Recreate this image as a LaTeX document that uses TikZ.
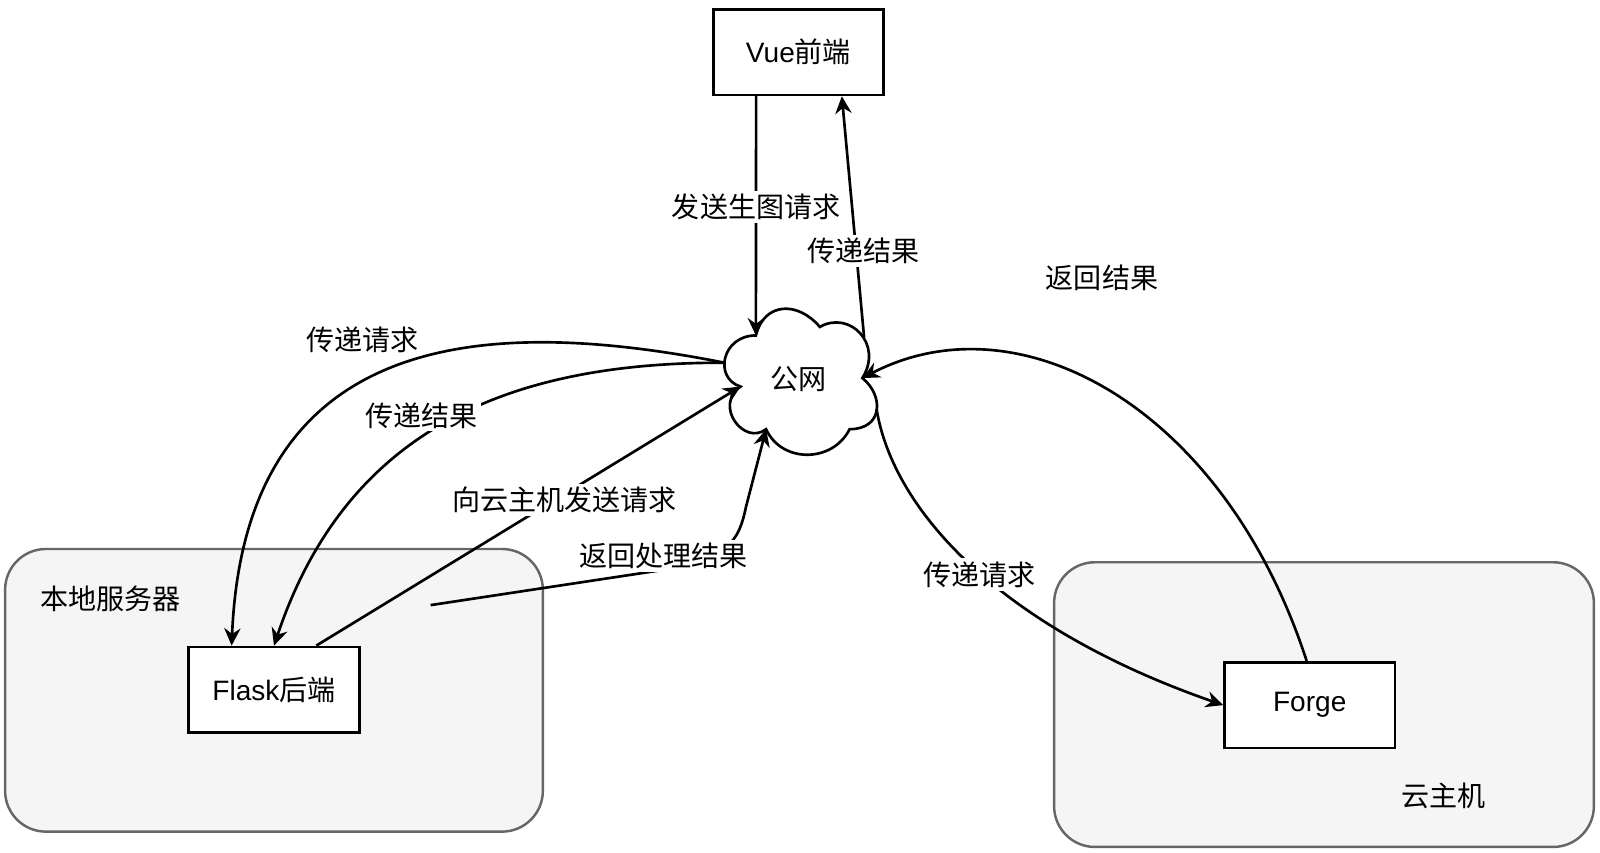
\documentclass[tikz,border=0pt]{standalone}
\usepackage{fontspec}
\setmainfont{Liberation Sans}
\newfontfamily\cjk{Noto Sans CJK SC}
\usetikzlibrary{arrows.meta,calc}
\begin{document}
\begin{tikzpicture}[x=0.5pt,y=-0.5pt,
  every node/.style={font=\fontsize{13.75}{16}\selectfont},
  group/.style={draw=black!60, fill=black!4, line width=1.2pt, rounded corners=20pt, inner sep=0pt},
  box/.style={draw=black, fill=white, line width=1.3pt, minimum width=83.5pt, minimum height=42pt, inner sep=0pt},
  conn/.style={line width=1.3pt, -{Stealth[length=8.5pt,width=8pt,inset=2.8pt]}},
  lbl/.style={fill=white, inner sep=1.5pt},
  txt/.style={inner sep=1pt}]
\useasboundingbox (0,0) rectangle (1568,835);

% groups
\node[group, minimum width=263.5pt, minimum height=138.5pt] (local) at (268.5,676.5) {};
\node[group, minimum width=264.5pt, minimum height=139.5pt] (cloudhost) at (1297.5,690.5) {};
\node[txt] (localtxt) at (108,587) {\cjk 本地服务器};
\node[txt] (hosttxt) at (1415,780) {\cjk 云主机};

% boxes
\node[box] (vue) at (782.5,51) {Vue{\cjk 前端}};
\node[box] (flask) at (268.5,676) {Flask{\cjk 后端}};
\node[box] (forge) at (1283.5,691) {Forge};

% cloud
\begin{scope}[shift={(699,287)}, xscale=167, yscale=167]
  \draw[line width=1.3pt, fill=white]
    (0.25,0.25) .. controls (0.05,0.25) and (0,0.5) .. (0.16,0.55)
    .. controls (0,0.66) and (0.18,0.9) .. (0.31,0.8)
    .. controls (0.4,1) and (0.7,1) .. (0.8,0.8)
    .. controls (1,0.8) and (1,0.6) .. (0.875,0.5)
    .. controls (1,0.3) and (0.8,0.1) .. (0.625,0.2)
    .. controls (0.5,0.05) and (0.3,0.05) .. (0.25,0.25) -- cycle;
  \coordinate (nTL) at (0.25,0.25);
  \coordinate (nLN) at (0.16,0.55);
  \coordinate (nBL) at (0.31,0.8);
  \coordinate (nRN) at (0.875,0.5);
  \coordinate (nR1) at (0.885,0.26);
  \coordinate (nR2) at (0.958,0.68);
  \coordinate (nL) at (0.066,0.41);
\end{scope}
\node[txt] (net) at (783,372) {\cjk 公网};

\coordinate (retstart) at (422,593);

% connectors
\draw[conn] ($(vue.south)+(-41.5,0)$) -- (nTL);
\draw[conn] (nR1) -- ($(vue.south)+(42.5,0)$);
\draw[conn] (nL) .. controls (480,310) and (240,320) .. ($(flask.north)+(-41.5,0)$);
\draw[conn] (nL) .. controls (500,355) and (340,420) .. (flask.north);
\draw[conn] ($(flask.north)+(41.5,0)$) -- (nLN);
\draw[conn] (retstart) -- (640,560) .. controls (715,549) and (724,530) .. (731,497) -- (nBL);
\draw[conn] (nR2) .. controls (875,500) and (980,615) .. (forge.west);
\draw[conn] ($(forge.north)+(-3,0)$) .. controls (1200,400) and (1000,290) .. (nRN);

% labels
\node[lbl] (l1) at (741,203) {\cjk 发送生图请求};
\node[lbl] (l2) at (846,246) {\cjk 传递结果};
\node[txt] (l3) at (1080,272) {\cjk 返回结果};
\node[lbl] (l4) at (355,333) {\cjk 传递请求};
\node[lbl] (l5) at (413,407) {\cjk 传递结果};
\node[lbl] (l6) at (553,490) {\cjk 向云主机发送请求};
\node[lbl] (l7) at (650,545) {\cjk 返回处理结果};
\node[lbl] (l8) at (960,563) {\cjk 传递请求};
\end{tikzpicture}
\end{document}
